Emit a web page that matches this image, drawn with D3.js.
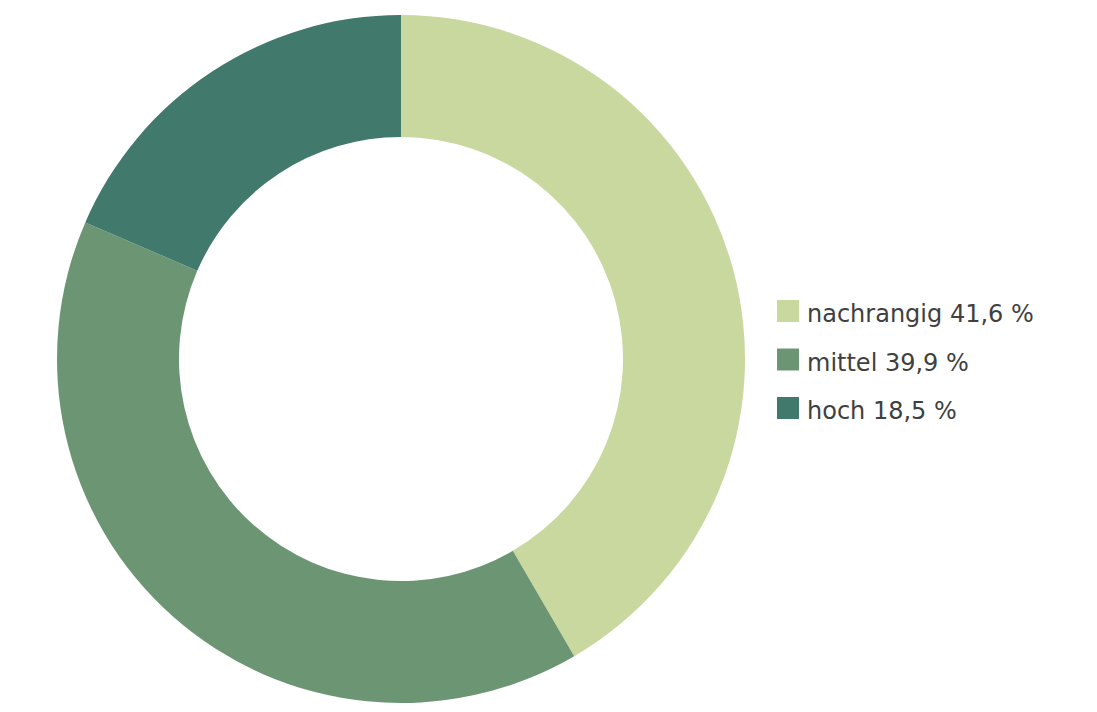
<!DOCTYPE html>
<html>
<head>
<meta charset="utf-8">
<script src="https://cdn.jsdelivr.net/npm/d3@7"></script>
<style>
  body { margin: 0; background: #fff; }
  svg { display: block; }
</style>
</head>
<body>
<script>
var categories = ["nachrangig", "mittel", "hoch"];
var values = [41.6, 39.9, 18.5];
var colors = ["#c9d89e", "#6c9673", "#417a6c"];

var w = 1097, h = 712;
var cx = 401, cy = 359;
var outerR = 344, innerR = 222;

var svg = d3.select("body").append("svg")
  .attr("width", w)
  .attr("height", h);

var data = categories.map(function(c, i) { return {name: c, value: values[i], color: colors[i]}; });

var pie = d3.pie().sort(null).value(function(d) { return d.value; });
var arc = d3.arc().innerRadius(innerR).outerRadius(outerR);

svg.append("g")
  .attr("transform", "translate(" + cx + "," + cy + ")")
  .selectAll("path")
  .data(pie(data))
  .enter().append("path")
  .attr("d", arc)
  .attr("fill", function(d) { return d.data.color; });

// legend
var legend = svg.append("g").attr("transform", "translate(777,300)");
var rows = legend.selectAll("g")
  .data(data)
  .enter().append("g")
  .attr("transform", function(d, i) { return "translate(0," + (i * 48.5) + ")"; });

rows.append("rect")
  .attr("width", 22)
  .attr("height", 22)
  .attr("fill", function(d) { return d.color; });

rows.append("text")
  .attr("x", 30)
  .attr("y", 22)
  .attr("font-family", "Verdana, 'DejaVu Sans', sans-serif")
  .attr("font-size", 24)
  .attr("fill", "#404040")
  .text(function(d) { return d.name + " " + d3.format(".1f")(d.value).replace(".", ",") + " %"; });
</script>
</body>
</html>
